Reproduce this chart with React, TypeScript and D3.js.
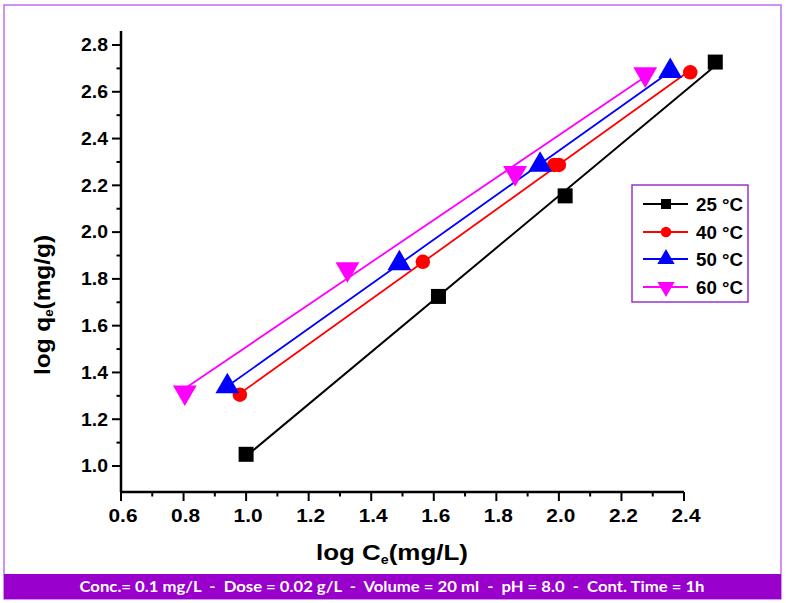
import React from "react";
import * as d3 from "d3";

const logCe25 = [1.0, 1.615, 2.02, 2.5];
const logQe25 = [1.05, 1.725, 2.155, 2.727];
const logCe40 = [0.98, 1.565, 1.985, 2.0, 2.42];
const logQe40 = [1.305, 1.873, 2.287, 2.287, 2.683];
const logCe50 = [0.94, 1.49, 1.94, 2.356];
const logQe50 = [1.34, 1.866, 2.287, 2.688];
const logCe60 = [0.804, 1.324, 1.86, 2.276];
const logQe60 = [1.315, 1.842, 2.253, 2.675];

const seriesNames = ["25 °C", "40 °C", "50 °C", "60 °C"];
const seriesColors = ["#000000", "#ff0000", "#0000ff", "#ff00ff"];
const seriesShapes = ["square", "circle", "triangle", "triangleDown"];

const xTicks = [0.6, 0.8, 1.0, 1.2, 1.4, 1.6, 1.8, 2.0, 2.2, 2.4];
const xMinor = [0.7, 0.9, 1.1, 1.3, 1.5, 1.7, 1.9, 2.1, 2.3];
const yTicks = [1.0, 1.2, 1.4, 1.6, 1.8, 2.0, 2.2, 2.4, 2.6, 2.8];
const yMinor = [1.1, 1.3, 1.5, 1.7, 1.9, 2.1, 2.3, 2.5, 2.7];

const footerText =
  "Conc.= 0.1 mg/L  -  Dose = 0.02 g/L  -  Volume = 20 ml  -  pH = 8.0  -  Cont. Time = 1h";

const W = 786;
const H = 603;
const FONT = "'Liberation Sans', Arial, sans-serif";

function fit(xs: number[], ys: number[]) {
  const mx = d3.mean(xs)!;
  const my = d3.mean(ys)!;
  let num = 0;
  let den = 0;
  xs.forEach((x, i) => {
    num += (x - mx) * (ys[i] - my);
    den += (x - mx) * (x - mx);
  });
  const b = num / den;
  const a = my - b * mx;
  return (x: number) => a + b * x;
}

function Marker({ shape, cx, cy, color, s }: any) {
  if (shape === "square")
    return <rect x={cx - s / 2} y={cy - s / 2} width={s} height={s} fill={color} />;
  if (shape === "circle") return <circle cx={cx} cy={cy} r={s / 2} fill={color} />;
  const sym = d3.symbol().type(d3.symbolTriangle).size(s * s * 0.9)();
  return (
    <path
      d={sym as string}
      transform={`translate(${cx},${cy}) rotate(${shape === "triangleDown" ? 180 : 0})`}
      fill={color}
    />
  );
}

export default function App() {
  const x = d3.scaleLinear().domain([0.6, 2.4]).range([121, 684]);
  const y = d3.scaleLinear().domain([1.0, 2.8]).range([466, 45]);
  const yBottom = 492;
  const yTop = 31;

  const data = [
    [logCe25, logQe25],
    [logCe40, logQe40],
    [logCe50, logQe50],
    [logCe60, logQe60],
  ];

  const legendX = 632;
  const legendY = 185;
  const legendRow = [204, 232, 259, 287];

  return (
    <svg
      width={W}
      height={H}
      style={{ position: "absolute", left: 0, top: 0, background: "#fff" }}
      fontFamily={FONT}
    >
      <rect x={0} y={0} width={W} height={H} fill="#fff" />
      {/* outer frame */}
      <rect x={4} y={5} width={777} height={594} fill="none" stroke="#c070e8" strokeWidth={1.5} />
      {/* footer bar */}
      <rect x={4} y={574} width={777} height={25} fill="#9900cc" />
      <text
        x={392}
        y={591.5}
        textAnchor="middle"
        fill="#fff"
        fontFamily="Lato, 'Open Sans', sans-serif"
        fontWeight="bold"
        fontSize={15}
        textLength={625}
        lengthAdjust="spacingAndGlyphs"
        xmlSpace="preserve"
      >
        {footerText}
      </text>

      {/* fitted lines */}
      {data.map(([xs, ys], i) => {
        const f = fit(xs, ys);
        const x0 = d3.min(xs)!;
        const x1 = d3.max(xs)!;
        return (
          <line
            key={"l" + i}
            x1={x(x0)}
            y1={y(f(x0))}
            x2={x(x1)}
            y2={y(f(x1))}
            stroke={seriesColors[i]}
            strokeWidth={i === 0 ? 2 : 1.8}
          />
        );
      })}
      {/* markers */}
      {data.map(([xs, ys], i) =>
        xs.map((v, j) => (
          <Marker
            key={`m${i}-${j}`}
            shape={seriesShapes[i]}
            cx={x(v)}
            cy={y(ys[j])}
            color={seriesColors[i]}
            s={i === 0 ? 15 : i === 1 ? 14.5 : 16.5}
          />
        ))
      )}

      {/* axes */}
      <line x1={121} y1={yTop} x2={121} y2={yBottom} stroke="#000" strokeWidth={2.5} />
      <line x1={121} y1={yBottom} x2={684} y2={yBottom} stroke="#000" strokeWidth={2.5} />
      {yTicks.map((t) => (
        <g key={"yt" + t}>
          <line x1={112} x2={121} y1={y(t)} y2={y(t)} stroke="#000" strokeWidth={2} />
          <text
            x={108}
            y={y(t) + 6.3}
            textAnchor="end"
            fontWeight="bold"
            fontSize={17.5}
            textLength={27}
            lengthAdjust="spacingAndGlyphs"
          >
            {t.toFixed(1)}
          </text>
        </g>
      ))}
      {yMinor.map((t) => (
        <line key={"ym" + t} x1={116.5} x2={121} y1={y(t)} y2={y(t)} stroke="#000" strokeWidth={2} />
      ))}
      {xTicks.map((t) => (
        <g key={"xt" + t}>
          <line x1={x(t)} x2={x(t)} y1={yBottom} y2={yBottom + 9} stroke="#000" strokeWidth={2} />
          <text
            x={x(t) + 2}
            y={522}
            textAnchor="middle"
            fontWeight="bold"
            fontSize={18}
            textLength={29}
            lengthAdjust="spacingAndGlyphs"
          >
            {t.toFixed(1)}
          </text>
        </g>
      ))}
      {xMinor.map((t) => (
        <line key={"xm" + t} x1={x(t)} x2={x(t)} y1={yBottom} y2={yBottom + 4.5} stroke="#000" strokeWidth={2} />
      ))}

      {/* axis titles */}
      <text
        x={392}
        y={560}
        textAnchor="middle"
        fontWeight="bold"
        fontSize={22}
        textLength={152}
        lengthAdjust="spacingAndGlyphs"
      >
        log C
        <tspan fontSize={12} dy={4}>e</tspan>
        <tspan dy={-4}>(mg/L)</tspan>
      </text>
      <text
        transform="translate(50,305) rotate(-90)"
        textAnchor="middle"
        fontWeight="bold"
        fontSize={22}
        textLength={140}
        lengthAdjust="spacingAndGlyphs"
      >
        log q
        <tspan fontSize={12} dy={3}>e</tspan>
        <tspan dy={-3}>(mg/g)</tspan>
      </text>

      {/* legend */}
      <rect
        x={legendX}
        y={legendY}
        width={116}
        height={117}
        fill="#fff"
        stroke="#9a33cc"
        strokeWidth={1.5}
      />
      {seriesNames.map((n, i) => (
        <g key={"lg" + i}>
          <line x1={643} x2={688} y1={legendRow[i]} y2={legendRow[i]} stroke={seriesColors[i]} strokeWidth={1.8} />
          <Marker shape={seriesShapes[i]} cx={666} cy={legendRow[i]} color={seriesColors[i]} s={i === 0 ? 10 : i === 1 ? 10.5 : 12} />
          <text
            x={696}
            y={legendRow[i] + 6.5}
            fontWeight="bold"
            fontSize={18}
            textLength={47}
            lengthAdjust="spacingAndGlyphs"
          >
            {n}
          </text>
        </g>
      ))}
    </svg>
  );
}
